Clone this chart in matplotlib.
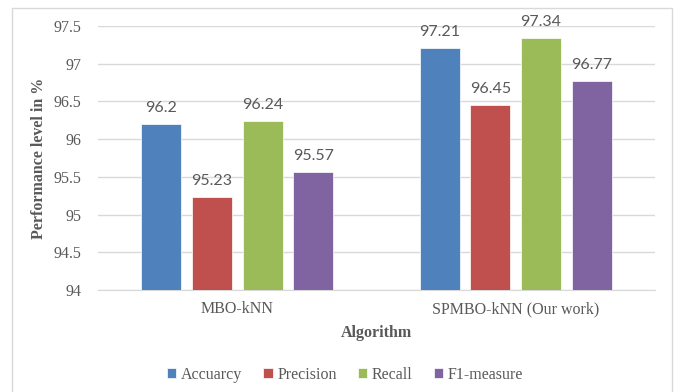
import matplotlib
matplotlib.use("Agg")
import matplotlib.pyplot as plt
import numpy as np
from matplotlib.patches import Rectangle

categories = ["MBO-kNN", "SPMBO-kNN (Our work)"]
series_names = ["Accuarcy", "Precision", "Recall", "F1-measure"]
accuracy = [96.2, 97.21]
precision = [95.23, 96.45]
recall = [96.24, 97.34]
f1_measure = [95.57, 96.77]
value_labels = [["96.2", "97.21"], ["95.23", "96.45"], ["96.24", "97.34"], ["95.57", "96.77"]]
yticks = [94, 94.5, 95, 95.5, 96, 96.5, 97, 97.5]
ytick_labels = ["94", "94.5", "95", "95.5", "96", "96.5", "97", "97.5"]

series = [accuracy, precision, recall, f1_measure]
colors = ["#4f81bd", "#c0504d", "#9bbb59", "#8064a2"]
text_color = "#595959"

plt.rcParams['font.family'] = ['Liberation Serif', 'DejaVu Serif']

fig = plt.figure(figsize=(6.77, 3.92), dpi=100)
ax = fig.add_axes([98/677, 1-290/392, (655-98)/677, (290-26)/392])

x = np.arange(len(categories))
width = 0.144
step = 0.182
for i, (vals, col, name) in enumerate(zip(series, colors, series_names)):
    pos = x + (i - 1.5) * step
    ax.bar(pos, [v - 94 for v in vals], width, bottom=94, color=col, label=name,
           edgecolor="white", linewidth=0.5, zorder=3)
    for p, v, lab in zip(pos, vals, value_labels[i]):
        ax.text(p, v + 0.12, lab, ha="center", va="bottom", fontsize=11.5,
                family=["Lato", "DejaVu Sans"], color=text_color, clip_on=False, zorder=4)

ax.set_xlim(-0.5, 1.5)
ax.set_ylim(94, 97.5)
ax.set_yticks(yticks)
ax.set_yticklabels(ytick_labels)
ax.set_xticks(x)
ax.set_xticklabels(categories)
ax.tick_params(axis="both", length=0, labelsize=11.5, labelcolor=text_color)
ax.tick_params(axis="y", pad=12)
ax.tick_params(axis="x", pad=8)
ax.grid(axis="y", color="#d9d9d9", linewidth=1, zorder=0)
for s in ["top", "right", "left"]:
    ax.spines[s].set_visible(False)
ax.spines["bottom"].set_color("#d9d9d9")
ax.spines["bottom"].set_zorder(1)

ax.set_ylabel("Performance level in %", fontsize=11.5, fontweight="bold", color=text_color)
ax.yaxis.set_label_coords(-0.092, 0.5)
fig.text(376/677, 1-333/392, "Algorithm", ha="center", va="center", fontsize=11.5,
         fontweight="bold", color=text_color)

leg = fig.legend(loc="center", bbox_to_anchor=(345/677, 1-375/392), ncol=4, frameon=False,
                 handlelength=0.6, handleheight=0.6, handletextpad=0.3, columnspacing=1.3,
                 fontsize=11.5)
for t in leg.get_texts():
    t.set_color(text_color)

fig.patches.append(Rectangle((12/677, -0.02), (672-12)/677, 1.02 - 8/392, transform=fig.transFigure,
                             fill=False, edgecolor="#d9d9d9", linewidth=1))

fig.savefig("out.png", dpi=100)
